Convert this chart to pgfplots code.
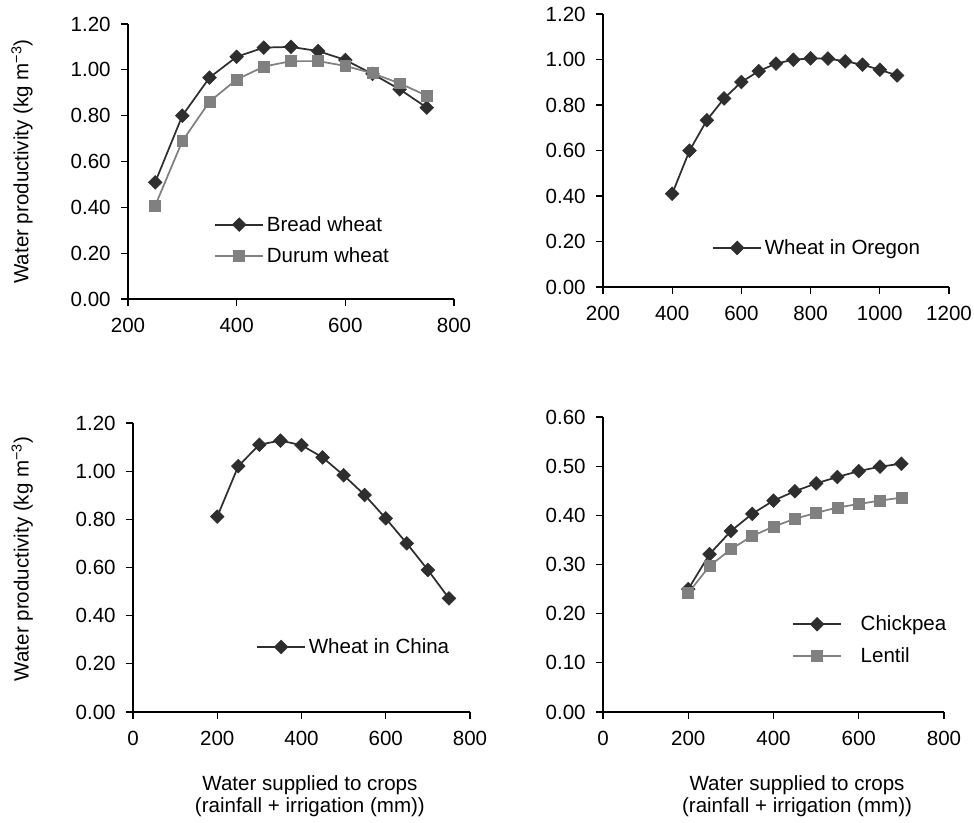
\documentclass[border=0pt]{standalone}
\usepackage{fontspec}
\setmainfont{Liberation Sans}
\usepackage{pgfplots}
\pgfplotsset{compat=1.18}
\definecolor{dk}{HTML}{2E2E2E}
\definecolor{gy}{HTML}{808080}
\newcommand{\fs}{\fontsize{15.4}{18.5}\selectfont}
\pgfplotsset{
  panel/.style={
    scale only axis,
    axis x line*=bottom, axis y line*=left,
    axis line style={black, line width=0.9pt, -},
    tick style={black, line width=0.9pt},
    tick align=outside, major tick length=5pt,
    minor tick num=0,
    tick label style={font=\fs},
    label style={font=\fs},
    /pgf/number format/assume math mode=true,
    /pgf/number format/1000 sep={},
    yticklabel style={xshift=-4.5pt, /pgf/number format/.cd, fixed, fixed zerofill, precision=2, /tikz/.cd},
    xticklabel style={yshift=-5.5pt},
    ymin=0,
    clip=false,
    legend cell align=left,
    legend style={draw=none, fill=none, inner sep=0pt, font=\fs, row sep=7pt, anchor=west},
    legend image code/.code={\draw[mark repeat=2,mark phase=2,##1,line width=1.4pt] plot coordinates {(0pt,0pt) (18pt,0pt) (36pt,0pt)};},
  },
  dark/.style={color=dk, line width=1.3pt, mark=square*, mark size=3.6pt, mark options={rotate=45, solid, fill=dk, line width=0.5pt}},
  grey/.style={color=gy, line width=1.3pt, mark=square*, mark size=4.1pt, mark options={solid, fill=gy, line width=0.5pt}},
  ylab/.style={ylabel={Water productivity (kg m\textsuperscript{−3})}},
  xlab/.style={xlabel={Water supplied to crops\\(rainfall + irrigation (mm))}, xlabel style={align=center, font=\fontsize{15.4}{16.5}\selectfont}},
}
\begin{document}
\begin{tikzpicture}
\path[use as bounding box] (0,0) rectangle (730.5pt,616.5pt);
% Panel 1
\begin{axis}[panel, at={(96pt,392.25pt)}, anchor=south west,
  width=244.5pt, height=206.25pt,
  xmin=200, xmax=800, xtick={200,400,600,800},
  ymax=1.2, ytick={0,0.2,...,1.2},
  ylab, ylabel style={at={(axis description cs:-0.325,0.5)}, anchor=center},
  legend style={at={(axis description cs:0.264,0.213)}}]
\addplot[dark] coordinates {(250,0.509) (300,0.800) (350,0.966) (400,1.057) (450,1.097) (500,1.100) (550,1.082) (600,1.043) (650,0.982) (700,0.915) (750,0.835)};
\addlegendentry{Bread wheat}
\addplot[grey] coordinates {(250,0.407) (300,0.689) (350,0.861) (400,0.958) (450,1.014) (500,1.038) (550,1.038) (600,1.017) (650,0.985) (700,0.941) (750,0.887)};
\addlegendentry{Durum wheat}
\end{axis}
% Panel 2
\begin{axis}[panel, at={(452.25pt,401.25pt)}, anchor=south west,
  width=259.5pt, height=204.75pt,
  xmin=200, xmax=1200, xtick={200,400,...,1200},
  ymax=1.2, ytick={0,0.2,...,1.2},
  legend style={at={(axis description cs:0.315,0.143)}}]
\addplot[dark] coordinates {(400,0.410) (450,0.599) (500,0.733) (550,0.829) (600,0.901) (650,0.949) (700,0.982) (750,0.999) (800,1.005) (850,1.004) (900,0.992) (950,0.977) (1000,0.955) (1050,0.930)};
\addlegendentry{Wheat in Oregon}
\end{axis}
% Panel 3
\begin{axis}[panel, at={(99.75pt,82.5pt)}, anchor=south west,
  width=252.75pt, height=216.75pt,
  xmin=0, xmax=800, xtick={0,200,...,800},
  ymax=1.2, ytick={0,0.2,...,1.2},
  ylab, ylabel style={at={(axis description cs:-0.329,0.53)}, anchor=center},
  xlab, xlabel style={at={(axis description cs:0.525,-0.205)}, anchor=north},
  legend style={at={(axis description cs:0.365,0.225)}}]
\addplot[dark] coordinates {(200,0.811) (250,1.021) (300,1.110) (350,1.127) (400,1.108) (450,1.057) (500,0.983) (550,0.901) (600,0.804) (650,0.700) (700,0.590) (750,0.472)};
\addlegendentry{Wheat in China}
\end{axis}
% Panel 4
\begin{axis}[panel, at={(452.25pt,82.5pt)}, anchor=south west,
  width=255.75pt, height=221.25pt,
  xmin=0, xmax=800, xtick={0,200,...,800},
  ymax=0.6, ytick={0,0.1,...,0.6},
  xlab, xlabel style={at={(axis description cs:0.569,-0.201)}, anchor=north},
  legend style={at={(axis description cs:0.554,0.244)}}]
\addplot[dark] coordinates {(200,0.250) (250,0.321) (300,0.368) (350,0.403) (400,0.430) (450,0.449) (500,0.465) (550,0.478) (600,0.490) (650,0.499) (700,0.505)};
\addlegendentry{\hspace{12pt}Chickpea}
\addplot[grey] coordinates {(200,0.242) (250,0.297) (300,0.331) (350,0.358) (400,0.377) (450,0.393) (500,0.405) (550,0.416) (600,0.423) (650,0.430) (700,0.436)};
\addlegendentry{\hspace{12pt}Lentil}
\end{axis}
\end{tikzpicture}
\end{document}
